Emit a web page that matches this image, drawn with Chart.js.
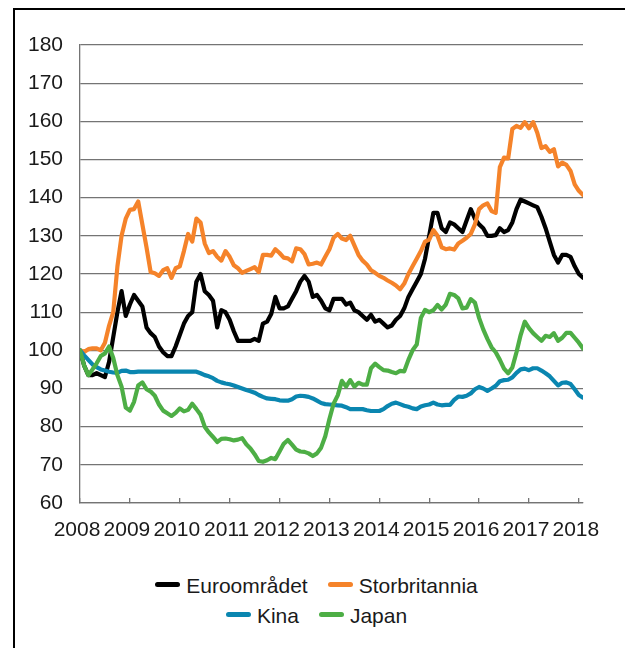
<!DOCTYPE html>
<html>
<head>
<meta charset="utf-8">
<script src="https://cdn.jsdelivr.net/npm/chart.js@4.4.1/dist/chart.umd.min.js"></script>
<style>
  body { margin: 0; background: #fff; font-family: "Liberation Sans", Arial, sans-serif; }
  #frame { position: absolute; left: 13px; top: 8px; width: 700px; height: 700px;
           border-top: 2.5px solid #000; border-left: 2.5px solid #000; }
  #wrap { position: absolute; left: 16px; top: 11px; width: 609px; height: 540px; }
  #legend { position: absolute; left: 0; top: 571px; width: 633px; color: #1a1a1a; font-size: 21px; }
  .row { display: flex; justify-content: center; height: 30px; line-height: 30px; }
  .item { display: flex; align-items: center; margin: 0 10px; }
  .mark { width: 25px; height: 5px; border-radius: 3px; margin-right: 6px; position: relative; top: -2px; }
</style>
</head>
<body>
<div id="frame"></div>
<div id="wrap"><canvas id="chart"></canvas></div>
<div id="legend"></div>
<script>
// månedlige verdier, januar 2008 - februar 2018
const startYear = 2008;
const yearTicks = [2008, 2009, 2010, 2011, 2012, 2013, 2014, 2015, 2016, 2017, 2018];
const seriesNames = ['Euroområdet', 'Storbritannia', 'Kina', 'Japan'];
const seriesColors = ['#000000', '#f5832a', '#0a86b0', '#4dae45'];

const euro = [
  100, 96, 93.5, 93.5, 94, 93.5, 93, 97, 103.5, 110,
  115.5, 109, 112, 114.5, 113, 111.5, 106, 104.5, 103.5, 101,
  99.5, 98.5, 98.5, 101, 104, 107, 109, 110, 118, 120,
  115.5, 114.5, 113, 106, 110.5, 110, 108, 105, 102.5, 102.5,
  102.5, 102.5, 103, 102.5, 107, 107.5, 109.5, 114, 111, 111,
  111.5, 113.5, 115.5, 118, 119.5, 118, 114, 114.5, 113, 111,
  110.5, 113.5, 113.5, 113.5, 112, 112.5, 110.5, 110, 109, 108,
  109.3, 107.5, 108, 107, 106, 106.5, 108, 109, 111, 114,
  116, 118, 120, 124, 130, 136, 136, 132, 131, 133.5,
  133, 132, 131, 134, 137, 134.5, 133, 132, 130, 130,
  130.2, 132, 131, 131.5, 133.5, 137, 139.5, 139, 138.5, 138,
  137.5, 135, 132, 128.5, 125, 123, 125, 125, 124.5, 122,
  120, 119
];
const uk = [
  100, 99.6, 100.3, 100.5, 100.5, 100, 102, 106.5, 110, 122,
  130, 134.5, 136.8, 137, 139, 133, 127, 120.5, 120.2, 119.5,
  121, 121.5, 119, 121.5, 122, 126, 130.5, 128.5, 134.5, 133.5,
  128, 125.5, 126, 124.5, 123.5, 126, 124.5, 122.3, 121.5, 120.3,
  120.8, 121.3, 121.8, 120.5, 125, 125, 124.8, 126.5, 125.5, 124.3,
  124.1, 123.3, 126.7, 126.5, 125.2, 122.5, 122.7, 123, 122.5, 124.5,
  126.5, 129.5, 130.5, 129.3, 128.9, 130, 127.5, 125, 123.5, 122.5,
  121, 120.3, 119.5, 119, 118.3, 117.7, 117, 116, 117.5, 120,
  122, 124, 126, 128.5, 129, 131.5, 130, 127, 126.5, 126.7,
  126.4, 128, 128.7, 129.5, 130.5, 133, 137, 138, 138.5, 136.5,
  136, 148, 150.5, 150.3, 158, 158.8, 158.3, 159.8, 158.2, 159.8,
  157, 153, 153.5, 152, 152.7, 148.2, 149.2, 148.6, 147, 143.5,
  141.8, 140.7
];
const kina = [
  100, 98.7, 97.5, 96.3, 95.6, 95, 94.7, 94.4, 94.2, 94.1,
  94.6, 94.7, 94.3, 94.3, 94.4, 94.4, 94.4, 94.4, 94.4, 94.4,
  94.4, 94.4, 94.4, 94.4, 94.4, 94.4, 94.4, 94.4, 94.4, 94,
  93.5, 93.2, 92.7, 92, 91.6, 91.3, 91.1, 90.8, 90.4, 90,
  89.6, 89.3, 88.9, 88.3, 87.8, 87.4, 87.3, 87.2, 86.9, 86.8,
  86.8, 87.2, 87.9, 88.1, 88, 87.8, 87.4, 86.8, 86.2, 85.9,
  85.8, 85.7, 85.6, 85.5, 85.1, 84.6, 84.6, 84.6, 84.6, 84.3,
  84.1, 84.1, 84.1, 84.6, 85.4, 86, 86.3, 85.9, 85.5, 85.2,
  84.8, 84.6, 85.3, 85.6, 85.8, 86.3, 85.8, 85.6, 85.7, 85.7,
  87, 87.9, 87.8, 88.1, 88.7, 89.8, 90.4, 90, 89.4, 90,
  90.7, 91.9, 92.2, 92.3, 92.9, 94.1, 95, 95.2, 94.8, 95.3,
  95.3, 94.7, 94, 93.2, 92, 90.8, 91.5, 91.6, 91.2, 89.8,
  88.3, 87.6
];
const japan = [
  100, 96, 93.5, 95, 96.6, 98.5, 99.2, 101, 98, 93.5,
  90.5, 85, 84.2, 86.5, 90.8, 91.6, 89.8, 89.2, 88.1, 85.8,
  84.2, 83.5, 82.8, 83.6, 84.8, 84, 84.4, 86, 84.6, 83.1,
  80, 78.5, 77.3, 76, 76.8, 76.9, 76.7, 76.4, 76.6, 77,
  75.4, 74.3, 72.8, 71, 70.8, 71.2, 71.8, 71.5, 73.5, 75.5,
  76.5, 75.3, 74, 73.5, 73.4, 73, 72.3, 73, 74.5, 77.5,
  82, 86, 88.2, 92, 90.5, 92.2, 90.5, 91.5, 91, 91,
  95.3, 96.5, 95.6, 94.8, 94.7, 94.3, 94, 94.6, 94.5, 97.5,
  100, 101.5, 108.5, 110.6, 110, 110.5, 111.9, 110.7, 112, 114.8,
  114.5, 113.6, 111, 111.2, 113.4, 112.5, 108.5, 105.5, 103, 100.8,
  99.5, 97.5, 95.2, 94, 95.5, 99.5, 104, 107.5, 105.8, 104.5,
  103.5, 102.5, 103.8, 103.5, 104.5, 102.5, 103.3, 104.6, 104.6, 103.3,
  102, 100.5
];

const allSeries = [euro, uk, kina, japan];
const tickFont = { family: '"Liberation Sans", Arial, sans-serif', size: 21 };
const axisGray = '#747474';

function toPoints(values) {
  return values.map((v, i) => ({ x: startYear + i / 12, y: v }));
}

const datasets = allSeries.map((values, i) => ({
  label: seriesNames[i],
  data: toPoints(values),
  borderColor: seriesColors[i],
  backgroundColor: seriesColors[i],
  order: allSeries.length - 1 - i
}));

const chart = new Chart(document.getElementById('chart'), {
  type: 'line',
  data: { datasets },
  options: {
    responsive: true,
    maintainAspectRatio: false,
    animation: false,
    layout: { padding: { top: 34, right: 42, bottom: 0, left: 0 } },
    plugins: { legend: { display: false }, tooltip: { enabled: false } },
    elements: {
      point: { radius: 0 },
      line: { tension: 0, borderWidth: 4.2, borderCapStyle: 'round', borderJoinStyle: 'round' }
    },
    scales: {
      x: {
        type: 'linear',
        min: startYear,
        max: 2018 + 1 / 12,
        afterBuildTicks: scale => { scale.ticks = yearTicks.map(v => ({ value: v })); },
        afterFit: scale => { scale.height = 48; },
        grid: { drawOnChartArea: false, drawTicks: true, tickLength: -5, color: axisGray, lineWidth: 1.3 },
        border: { color: axisGray, width: 1.3 },
        ticks: {
          autoSkip: false, maxRotation: 0, minRotation: 0,
          padding: 20, labelOffset: -3,
          color: '#1a1a1a', font: tickFont,
          callback: v => String(v)
        }
      },
      y: {
        min: 60,
        max: 180,
        afterFit: scale => { scale.width = 64; },
        grid: { drawTicks: false, color: axisGray, lineWidth: 1.3 },
        border: { color: axisGray, width: 1.3 },
        ticks: { stepSize: 10, padding: 17, color: '#1a1a1a', font: tickFont }
      }
    }
  }
});

// forklaring i to rader, som i originalen
const legend = document.getElementById('legend');
[[0, 1], [2, 3]].forEach(idxs => {
  const row = document.createElement('div');
  row.className = 'row';
  idxs.forEach(i => {
    const ds = chart.data.datasets[i];
    const item = document.createElement('div');
    item.className = 'item';
    const mark = document.createElement('span');
    mark.className = 'mark';
    mark.style.background = ds.borderColor;
    const txt = document.createElement('span');
    txt.textContent = ds.label;
    item.appendChild(mark);
    item.appendChild(txt);
    row.appendChild(item);
  });
  legend.appendChild(row);
});
</script>
</body>
</html>
